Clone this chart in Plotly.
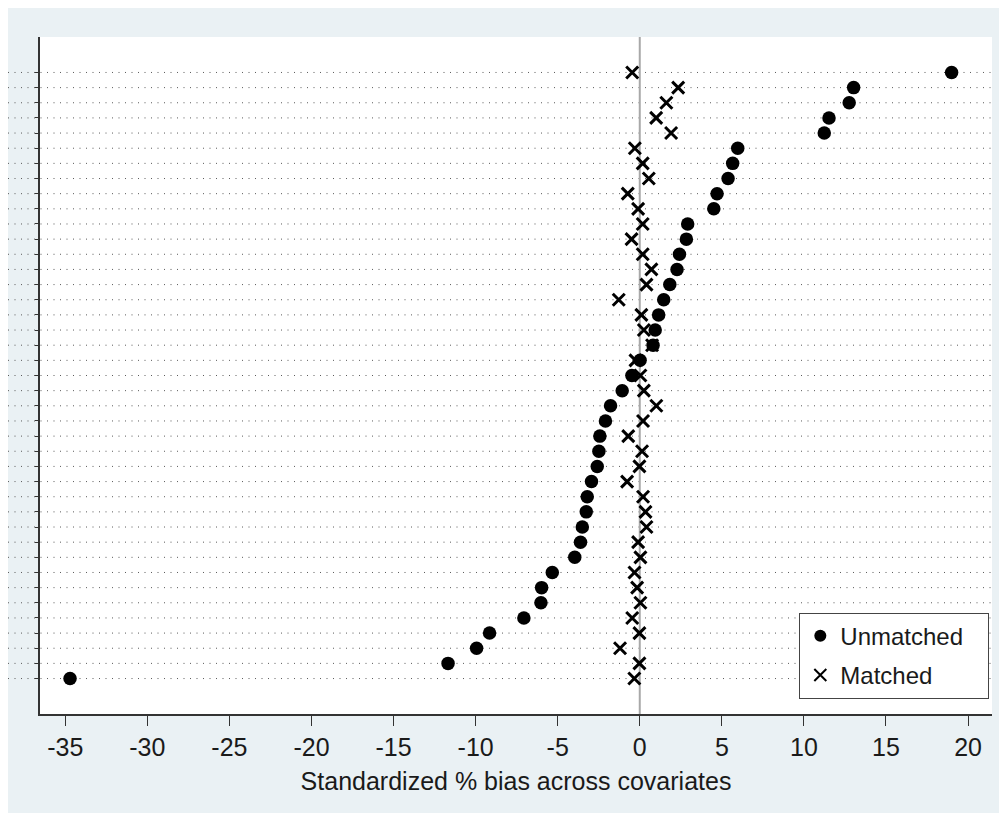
import plotly.graph_objects as go

# Covariate rows, listed top to bottom (labels are cropped in the reference)
rows = list(range(1, 42))

unmatched = [19.0, 13.03, 12.76, 11.53, 11.24, 5.97, 5.66, 5.38, 4.71, 4.51,
             2.92, 2.84, 2.42, 2.27, 1.83, 1.46, 1.15, 0.94, 0.81, 0.02,
             -0.48, -1.07, -1.78, -2.09, -2.43, -2.49, -2.59, -2.94, -3.2, -3.26,
             -3.5, -3.61, -3.96, -5.33, -5.98, -6.02, -7.06, -9.15, -9.94, -11.68,
             -34.71]

matched = [-0.46, 2.34, 1.62, 1.0, 1.91, -0.3, 0.18, 0.55, -0.73, -0.1,
           0.18, -0.5, 0.18, 0.71, 0.41, -1.28, 0.1, 0.25, 0.75, -0.26,
           0.04, 0.25, 1.01, 0.2, -0.7, 0.14, -0.02, -0.77, 0.2, 0.35,
           0.41, -0.1, 0.04, -0.32, -0.16, 0.04, -0.46, -0.02, -1.2, -0.02,
           -0.33]

x_ticks = [-35, -30, -25, -20, -15, -10, -5, 0, 5, 10, 15, 20]
x_ticktext = ["-35", "-30", "-25", "-20", "-15", "-10", "-5", "0", "5", "10", "15", "20"]
x_title = "Standardized % bias across covariates"
legend_names = ["Unmatched", "Matched"]

FONT = "Arial, Liberation Sans, sans-serif"
BG = "#EAF1F4"
NB = "\u00a0"

fig = go.Figure()
fig.add_trace(go.Scatter(
    x=unmatched, y=rows, mode="markers", name=legend_names[0] + NB * 3,
    marker=dict(symbol="circle", size=13.5, color="black"),
    legendgroup="u",
))
fig.add_trace(go.Scatter(
    x=matched, y=rows, mode="markers", name=legend_names[1] + NB * 3,
    marker=dict(symbol="x-thin-open", size=12, color="black",
                line=dict(width=3, color="black")),
    legendgroup="m",
))

shapes = []
# dotted row lines (extend into the left margin as in the reference)
for r in rows:
    shapes.append(dict(type="line", xref="paper", yref="y", x0=-0.0336, x1=1.0,
                       y0=r, y1=r, line=dict(color="#5a5a5a", width=1, dash="1px,5.5px"),
                       layer="below"))
# zero reference line
shapes.append(dict(type="line", xref="x", yref="paper", x0=0, x1=0, y0=0, y1=1,
                   line=dict(color="#A8A8A8", width=2), layer="below"))

fig.update_layout(
    width=991, height=805,
    margin=dict(l=32, r=7, t=29, b=99),
    paper_bgcolor=BG, plot_bgcolor="white",
    font=dict(family=FONT, size=24, color="#1a1a1a"),
    shapes=shapes,
    showlegend=True,
    legend=dict(x=0.7976, y=0.1496, xanchor="left", yanchor="top",
                bgcolor="white", bordercolor="#444444", borderwidth=1,
                font=dict(size=24, family=FONT, color="#1a1a1a"),
                tracegroupgap=5, itemsizing="constant"),
    xaxis=dict(range=[-36.54, 21.46], tickvals=x_ticks, ticktext=x_ticktext,
               ticks="outside", ticklen=10,
               tickwidth=1.3, tickcolor="#333333", showline=True, linecolor="#333333",
               linewidth=1.5, showgrid=False, zeroline=False,
               title=dict(text=x_title, font=dict(size=25, family=FONT), standoff=13),
               tickfont=dict(size=25, family=FONT)),
    yaxis=dict(range=[43.34, -1.34], autorange=False,
               tickvals=rows, showticklabels=False, ticks="outside", ticklen=3,
               tickcolor="#333333", showline=True, linecolor="#333333", linewidth=1.5,
               showgrid=False, zeroline=False),
)

fig.write_html("out.html")
